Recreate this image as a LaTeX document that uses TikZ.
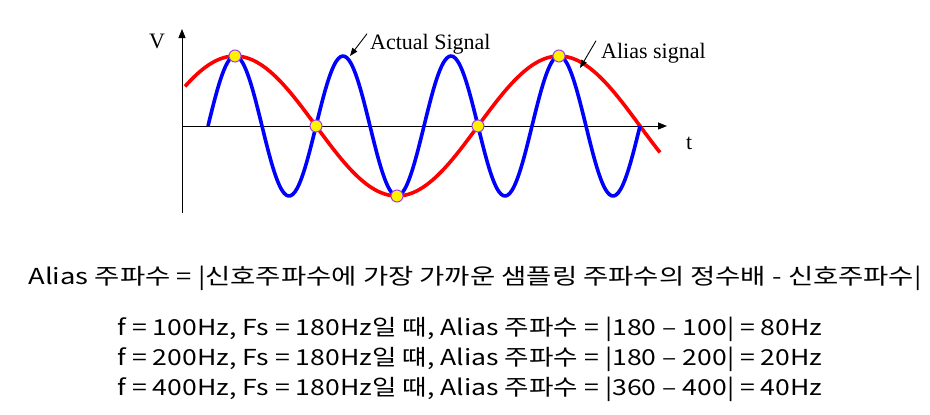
\documentclass[tikz,border=0pt]{standalone}
\usepackage{fontspec}
\setmainfont{Liberation Serif}
\newfontfamily\kofont{Noto Sans CJK KR}
\usetikzlibrary{arrows.meta}

% stretch Korean lines to the width of the original
\newcommand{\kowide}[2]{\scalebox{#1}[1]{#2}}

\tikzset{
    wave/.style={line width=3.6pt,smooth,line join=round},
    sampledot/.style={shape=circle,draw=alias_dotline,fill=yellow,line width=1pt,minimum size=12pt,inner sep=0pt},
    axisline/.style={line width=0.9pt,-{Triangle[length=9pt,width=7pt]}},
    pointer/.style={line width=0.9pt,-{Triangle[length=8pt,width=6pt]}},
    sigtext/.style={font=\fontsize{22}{24}\selectfont,anchor=base west,inner sep=0pt},
    kotext/.style={font=\kofont\fontsize{22}{26}\selectfont,anchor=base,inner sep=0pt}
}

\begin{document}
\begin{tikzpicture}[x=1pt,y=-1pt]
    \definecolor{alias_red}{RGB}{255,0,0}
    \definecolor{alias_blue}{RGB}{0,0,255}
    \definecolor{alias_dotline}{RGB}{160,60,240}
    \useasboundingbox (0,0) rectangle (930,415);
    % axes
    \coordinate (origin) at (182,126);
    \coordinate (vtop) at (182,29);
    \coordinate (vbottom) at (182,213);
    \coordinate (tend) at (667,126);
    \draw[axisline] (vbottom) -- (vtop);
    \draw[axisline] (origin) -- (tend);
    \node[sigtext,anchor=base] (vlabel) at (157,48) {V};
    \node[sigtext] (tlabel) at (686,149) {t};
    % signals
    \draw[wave,alias_red]  plot[domain=185:660,samples=120] (\x,{126-70*cos((\x-235)/324*360)});
    \draw[wave,alias_blue] plot[domain=208:640,samples=200] (\x,{126-70*cos((\x-235)/108*360)});
    % sample points
    \node[sampledot] (s1) at (235,56) {};
    \node[sampledot] (s2) at (316,126) {};
    \node[sampledot] (s3) at (397,196) {};
    \node[sampledot] (s4) at (478,126) {};
    \node[sampledot] (s5) at (559,56) {};
    % labels
    \node[sigtext] (actual) at (370,49) {Actual Signal};
    \node[sigtext] (alias) at (601,58) {Alias signal};
    \coordinate (actualhead) at (350,56);
    \coordinate (aliashead) at (580,68);
    \draw[pointer] (actual.west) ++(-3,-10) coordinate (actualtail) -- (actualhead);
    \draw[pointer] (alias.west) ++(-5,-12) coordinate (aliastail) -- (aliashead);
    % text
    \node[kotext] (formula) at (475,284) {\kowide{1.247}{Alias 주파수 = |신호주파수에 가장 가까운 샘플링 주파수의 정수배 - 신호주파수|}};
    \node[kotext] (caseA) at (470,335) {\kowide{1.21}{f = 100Hz, Fs = 180Hz일 때, Alias 주파수 = |180 – 100| = 80Hz}};
    \node[kotext] (caseB) at (470,365) {\kowide{1.21}{f = 200Hz, Fs = 180Hz일 떄, Alias 주파수 = |180 – 200| = 20Hz}};
    \node[kotext] (caseC) at (470,395) {\kowide{1.21}{f = 400Hz, Fs = 180Hz일 때, Alias 주파수 = |360 – 400| = 40Hz}};
\end{tikzpicture}
\end{document}
